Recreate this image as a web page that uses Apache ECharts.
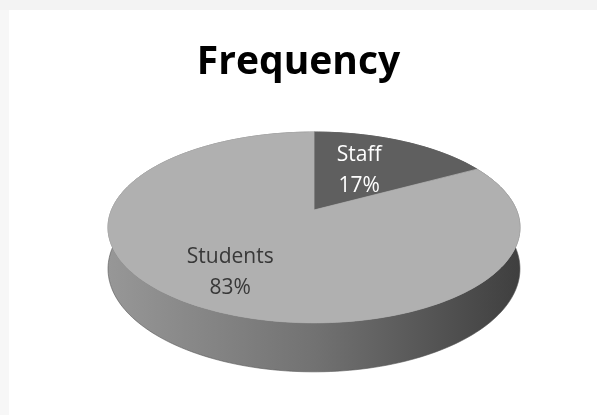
<!DOCTYPE html>
<html>
<head>
<meta charset="utf-8">
<script src="https://cdn.jsdelivr.net/npm/echarts@6/dist/echarts.min.js"></script>
<style>
  html, body { margin: 0; padding: 0; background: #fff; }
  #chart { width: 597px; height: 415px; }
</style>
</head>
<body>
<div id="chart"></div>
<script>
// Share of respondents by group (percent)
const categories = ['Staff', 'Students'];
const shares = [17, 83];

// Slice appearance, keyed by category
const sliceStyle = {
  Staff:    { top: '#5f5f5f', label: '#ffffff', labelRadius: 0.47, dy: -5 },
  Students: { top: '#b0b0b0', label: '#383838', labelRadius: 0.72, dy: -2 }
};

// Perspective disc: u runs left->right, v runs far->near, both in [-1, 1]
const disc = { cx: 314, A: 53.8, B: 210, C: -0.183, D: 202.5, depth: 40 };

function project(u, v, drop) {
  const den = 1 + disc.C * v;
  return [disc.cx + disc.D * u / den, (disc.A * v + disc.B + drop) / den];
}
// angle measured clockwise from 12 o'clock
function rim(theta, r, drop) {
  return project(r * Math.sin(theta), -r * Math.cos(theta), drop);
}

const total = shares.reduce((a, b) => a + b, 0);
const cum = [0];
shares.forEach((s, i) => cum.push(cum[i] + s));

const sideFill = {
  type: 'linear', x: 108, y: 0, x2: 520, y2: 0, global: true,
  colorStops: [
    { offset: 0, color: '#979797' },
    { offset: 0.5, color: '#727272' },
    { offset: 1, color: '#3f3f3f' }
  ]
};

function renderItem(params, api) {
  const i = params.dataIndex;
  const name = categories[i];
  const st = sliceStyle[name];
  const a0 = cum[i] / total * Math.PI * 2;
  const a1 = cum[i + 1] / total * Math.PI * 2;
  const n = Math.max(8, Math.ceil((a1 - a0) / (Math.PI / 120)));
  const arcTop = [], arcBottom = [];
  for (let k = 0; k <= n; k++) {
    const t = a0 + (a1 - a0) * k / n;
    arcTop.push(rim(t, 1, 0));
    arcBottom.push(rim(t, 1, disc.depth));
  }
  const side = arcTop.concat(arcBottom.slice().reverse());
  const face = [project(0, 0, 0)].concat(arcTop);
  const mid = (a0 + a1) / 2;
  const lp = rim(mid, st.labelRadius, 0);
  const pct = Math.round(api.value(0) / total * 100);
  return {
    type: 'group',
    children: [
      { type: 'polygon', shape: { points: side }, z2: 1,
        style: { fill: sideFill, stroke: '#555555', lineWidth: 0.6 } },
      { type: 'polygon', shape: { points: face }, z2: 10,
        style: { fill: st.top, stroke: st.top, lineWidth: 0.8 } },
      { type: 'text', z2: 20,
        style: {
          text: name + '\n' + pct + '%',
          x: lp[0], y: lp[1] + st.dy,
          align: 'center', verticalAlign: 'middle',
          fill: st.label,
          fontFamily: 'Open Sans', fontSize: 21, lineHeight: 31
        } }
    ]
  };
}

const chart = echarts.init(document.getElementById('chart'), null, { renderer: 'canvas' });
chart.setOption({
  backgroundColor: '#ffffff',
  animation: false,
  title: {
    text: 'Frequency',
    left: 'center',
    top: 38,
    textStyle: { fontFamily: 'Open Sans', fontWeight: 'bold', fontSize: 39, color: '#000000' }
  },
  graphic: [
    { type: 'rect', left: 0, top: 0, z: -10, shape: { width: 597, height: 10 }, style: { fill: '#f3f3f3' } },
    { type: 'rect', left: 0, top: 10, z: -10, shape: { width: 9, height: 405 }, style: { fill: '#f7f7f7' } }
  ],
  series: [{
    type: 'custom',
    coordinateSystem: 'none',
    data: shares.map((v, i) => ({ name: categories[i], value: v })),
    renderItem: renderItem
  }]
});
</script>
</body>
</html>
